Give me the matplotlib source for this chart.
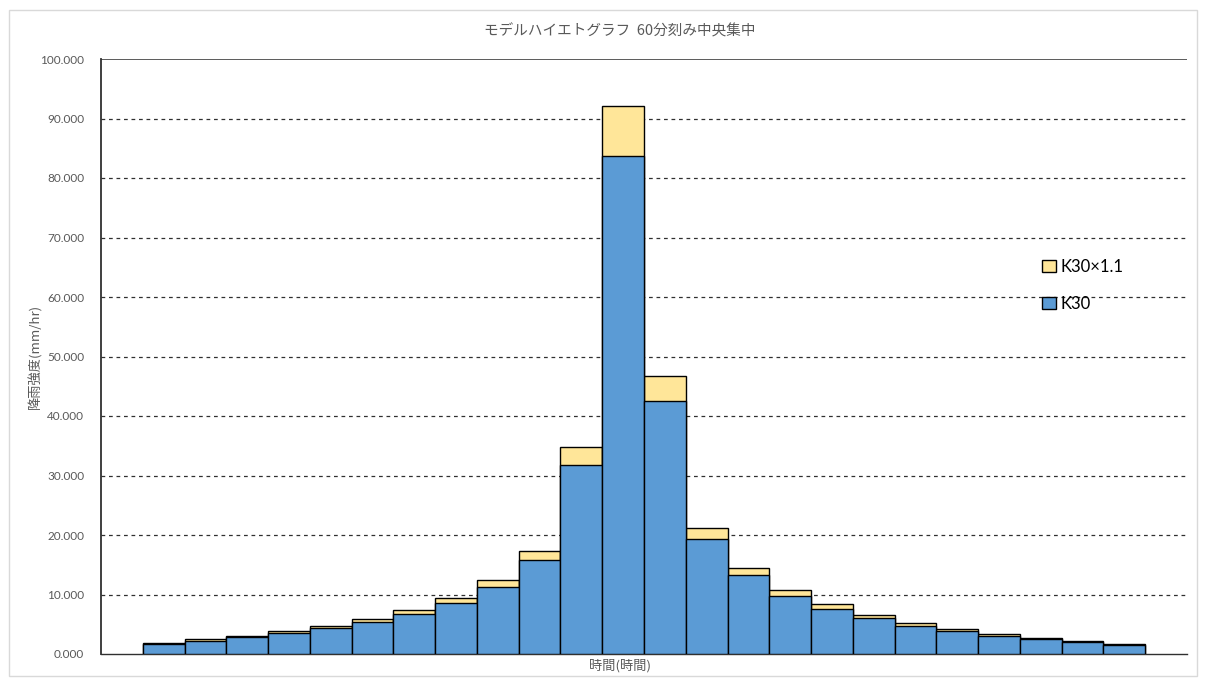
import matplotlib.pyplot as plt
import numpy as np
from matplotlib.patches import Rectangle

plt.rcParams['font.family'] = ['Noto Sans CJK JP', 'DejaVu Sans']

# 降雨強度 (mm/hr), 60分刻み中央集中
k30 = [1.68, 2.24, 2.80, 3.47, 4.30, 5.37, 6.72, 8.55, 11.30, 15.80, 31.70, 83.70,
       42.50, 19.30, 13.20, 9.75, 7.62, 6.00, 4.76, 3.87, 3.08, 2.46, 1.96, 1.51]
k30_11 = [1.85, 2.46, 3.08, 3.82, 4.73, 5.91, 7.39, 9.41, 12.43, 17.38, 34.87, 92.07,
          46.75, 21.23, 14.52, 10.73, 8.38, 6.60, 5.24, 4.26, 3.39, 2.71, 2.16, 1.66]
yticks = np.arange(0, 101, 10)

title = 'モデルハイエトグラフ  60分刻み中央集中'
ylabel = '降雨強度(mm/hr)'
xlabel = '時間(時間)'

fig = plt.figure(figsize=(12.06, 6.88), dpi=100)
fig.patches.append(Rectangle((9 / 1206, 12 / 688), 1188 / 1206, 666 / 688,
                             transform=fig.transFigure, fill=False,
                             edgecolor='#d9d9d9', lw=1))
ax = fig.add_axes([101 / 1206, 1 - 654 / 688, 1086 / 1206, 595 / 688])

x = np.arange(len(k30))
ax.bar(x, k30_11, width=1.0, color='#ffe699', edgecolor='black', lw=1.0,
       zorder=2, label='K30×1.1')
ax.bar(x, k30, width=1.0, color='#5b9bd5', edgecolor='black', lw=1.0,
       zorder=3, label='K30')

ax.set_xlim(-1.5, len(k30) + 0.5)
ax.set_ylim(0, 100)
ax.set_yticks(yticks)
ax.set_yticklabels(['%.3f' % v for v in yticks], family='Lato')
ax.set_xticks([])
ax.tick_params(axis='y', length=0, labelsize=8.5, labelcolor='#595959', pad=12)
for v in yticks[1:-1]:
    ax.axhline(v, color='#303030', lw=0.9, ls=(0, (3, 3)), zorder=1)
ax.axhline(100, color='#404040', lw=1.2, zorder=1)

for s in ['top', 'right']:
    ax.spines[s].set_visible(False)
ax.spines['left'].set_color('#303030')
ax.spines['left'].set_linewidth(1.3)
ax.spines['bottom'].set_color('#303030')
ax.spines['bottom'].set_linewidth(1.0)

fig.text(620 / 1206, 1 - 31 / 688, title, ha='center', va='center',
         fontsize=10.5, color='#595959')
fig.text(35 / 1206, 1 - 356 / 688, ylabel, rotation=90, ha='center',
         va='center', fontsize=9.5, color='#595959')
fig.text(620 / 1206, 1 - 666 / 688, xlabel, ha='center', va='center',
         fontsize=9.5, color='#595959')

h, l = ax.get_legend_handles_labels()
ax.legend(h, l, loc='upper left', bbox_to_anchor=(0.86, 0.675), frameon=False,
          prop={'family': 'Lato', 'size': 12}, handlelength=0.85,
          handleheight=0.7, handletextpad=0.3, labelspacing=1.25,
          borderaxespad=0)

fig.savefig('out.png', dpi=100, facecolor='white')
